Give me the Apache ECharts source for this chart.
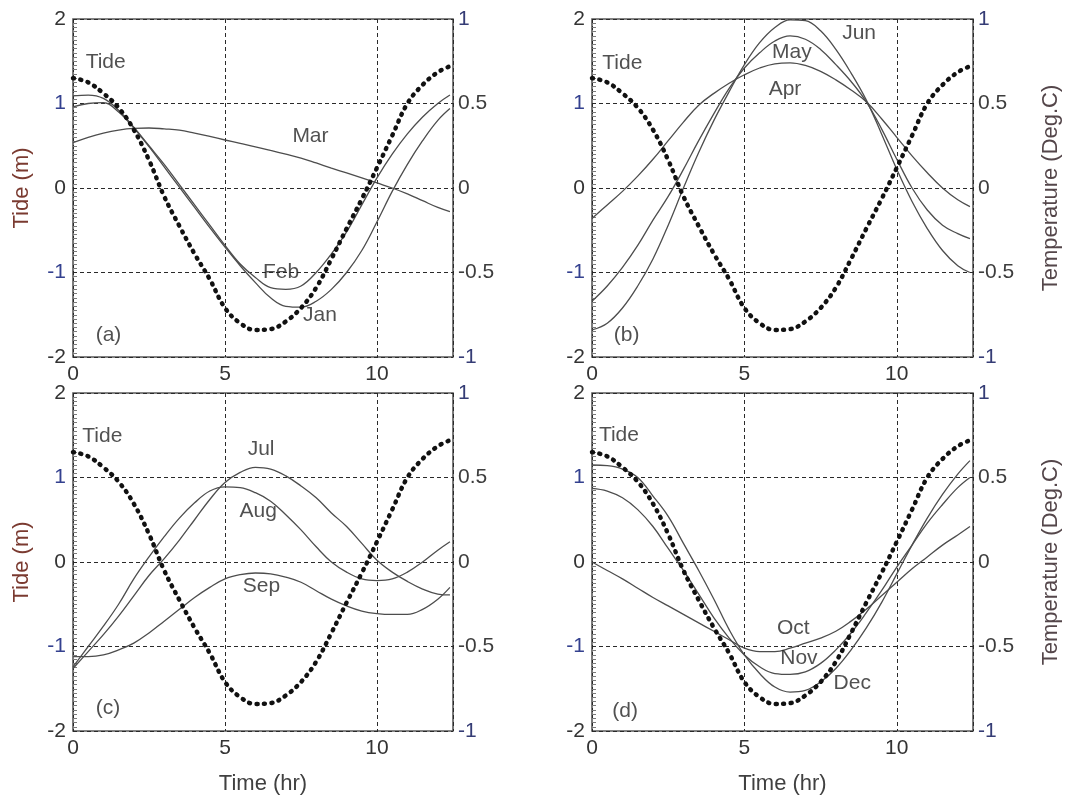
<!DOCTYPE html>
<html>
<head>
<meta charset="utf-8">
<script src="https://cdn.jsdelivr.net/npm/echarts@6/dist/echarts.min.js"></script>
<style>
html,body{margin:0;padding:0;background:#ffffff;}
#chart{width:1070px;height:797px;}
</style>
</head>
<body>
<div id="chart"></div>
<script>
// ---------------- DATA ----------------
const hours = [0,0.5,1,1.5,2,2.5,3,3.5,4,4.5,5,5.5,6,6.5,7,7.5,8,8.5,9,9.5,10,10.5,11,11.5,12,12.4];

// Tide (m), same in all four panels (left axis)
const tide = [1.30,1.25,1.12,0.95,0.69,0.33,-0.10,-0.45,-0.78,-1.08,-1.42,-1.60,-1.68,-1.67,-1.58,-1.42,-1.18,-0.84,-0.48,-0.13,0.24,0.62,1.00,1.22,1.37,1.44];

// Temperature anomalies (Deg.C, right axis)
const jan = [0.48,0.50,0.505,0.45,0.355,0.245,0.125,0.005,-0.115,-0.235,-0.35,-0.46,-0.56,-0.65,-0.70,-0.705,-0.67,-0.60,-0.50,-0.37,-0.20,-0.02,0.14,0.28,0.40,0.47];
const feb = [0.545,0.55,0.53,0.46,0.36,0.25,0.14,0.02,-0.10,-0.22,-0.34,-0.45,-0.53,-0.59,-0.60,-0.58,-0.50,-0.39,-0.26,-0.10,0.06,0.20,0.32,0.42,0.50,0.55];
const mar = [0.268,0.30,0.325,0.343,0.353,0.355,0.35,0.343,0.325,0.305,0.284,0.264,0.244,0.222,0.20,0.177,0.148,0.118,0.089,0.06,0.03,0.0,-0.035,-0.075,-0.115,-0.14];
const apr = [-0.18,-0.10,-0.02,0.07,0.17,0.28,0.39,0.49,0.56,0.62,0.67,0.71,0.735,0.74,0.725,0.69,0.64,0.58,0.51,0.41,0.30,0.19,0.09,0.0,-0.07,-0.11];
const may = [-0.67,-0.58,-0.47,-0.34,-0.19,-0.05,0.11,0.28,0.44,0.59,0.71,0.80,0.87,0.90,0.88,0.82,0.73,0.63,0.51,0.35,0.17,0.0,-0.13,-0.22,-0.27,-0.30];
const jun = [-0.84,-0.80,-0.71,-0.58,-0.42,-0.22,0.0,0.21,0.40,0.57,0.73,0.86,0.95,0.995,0.99,0.93,0.82,0.68,0.52,0.32,0.11,-0.08,-0.24,-0.37,-0.46,-0.50];
const jul = [-0.63,-0.53,-0.43,-0.32,-0.20,-0.08,0.02,0.13,0.25,0.37,0.47,0.53,0.56,0.55,0.51,0.45,0.38,0.29,0.21,0.11,0.01,-0.06,-0.115,-0.16,-0.19,-0.195];
const aug = [-0.62,-0.50,-0.38,-0.25,-0.10,0.03,0.15,0.26,0.35,0.42,0.445,0.44,0.41,0.36,0.28,0.19,0.09,0.0,-0.06,-0.10,-0.11,-0.10,-0.06,0.0,0.07,0.12];
const sep = [-0.56,-0.56,-0.55,-0.52,-0.48,-0.42,-0.35,-0.28,-0.21,-0.15,-0.10,-0.075,-0.065,-0.07,-0.09,-0.12,-0.17,-0.22,-0.26,-0.29,-0.305,-0.31,-0.31,-0.28,-0.22,-0.15];
const oct = [0.0,-0.05,-0.10,-0.155,-0.21,-0.26,-0.31,-0.36,-0.41,-0.46,-0.51,-0.53,-0.53,-0.51,-0.48,-0.45,-0.41,-0.35,-0.28,-0.20,-0.12,-0.04,0.03,0.10,0.16,0.21];
const nov = [0.436,0.42,0.38,0.31,0.21,0.08,-0.05,-0.19,-0.33,-0.45,-0.55,-0.62,-0.66,-0.665,-0.65,-0.60,-0.52,-0.42,-0.30,-0.17,-0.03,0.10,0.23,0.34,0.44,0.50];
const dec = [0.574,0.57,0.55,0.50,0.39,0.27,0.11,-0.05,-0.22,-0.40,-0.55,-0.66,-0.74,-0.77,-0.76,-0.71,-0.63,-0.52,-0.39,-0.24,-0.07,0.10,0.26,0.40,0.52,0.60];

const panelSeries = [[jan,feb,mar],[apr,may,jun],[jul,aug,sep],[oct,nov,dec]];

// Text annotations: [text, hour, tide-axis value]
const notesA = [["Tide",0.40,1.49],["Mar",7.2,0.61],["Feb",6.23,-1.0],["Jan",7.55,-1.5],["(a)",0.73,-1.74]];
const notesB = [["Tide",0.32,1.48],["Jun",8.19,1.83],["May",5.89,1.61],["Apr",5.78,1.17],["(b)",0.70,-1.74]];
const notesC = [["Tide",0.29,1.49],["Jul",5.73,1.33],["Aug",5.46,0.60],["Sep",5.57,-0.29],["(c)",0.73,-1.73]];
const notesD = [["Tide",0.21,1.50],["Oct",6.05,-0.78],["Nov",6.16,-1.14],["Dec",7.91,-1.44],["(d)",0.65,-1.76]];
const panelNotes = [notesA,notesB,notesC,notesD];

// ---------------- CHART ----------------
const FONT = "'Liberation Sans', Arial, sans-serif";
const grids = [
  {left:73, top:19, width:380, height:338},
  {left:592, top:19, width:381, height:338},
  {left:73, top:393, width:380, height:338},
  {left:592, top:393, width:381, height:338}
];
const dash = {type:[4,3], color:'#2a2a2a', width:1};

const option = {
  animation:false,
  backgroundColor:'#ffffff',
  grid: grids.map(g => Object.assign({show:true, borderColor:'#5a5a5a', borderWidth:1.6, backgroundColor:'transparent', containLabel:false}, g)),
  xAxis: [], yAxis: [], series: []
};

for (let i = 0; i < 4; i++) {
  option.xAxis.push({
    type:'value', gridIndex:i, min:0, max:12.5, interval:5,
    axisLine:{show:false}, axisTick:{show:false},
    axisLabel:{fontFamily:FONT, fontSize:21, color:'#333333', margin:7, showMaxLabel:false},
    splitLine:{show:true, lineStyle:dash},
    name: i >= 2 ? 'Time (hr)' : '',
    nameLocation:'middle', nameGap:42,
    nameTextStyle:{fontFamily:FONT, fontSize:22, color:'#404040'}
  });
  option.yAxis.push({
    type:'value', gridIndex:i, position:'left', min:-2, max:2, interval:1,
    axisLine:{show:false},
    axisTick:{show:false, inside:true},
    minorTick:{show:true, splitNumber:20, length:4, lineStyle:{color:'#7a7a7a', width:1}},
    axisLabel:{fontFamily:FONT, fontSize:21, margin:7,
      color:function(v){ return Math.abs(Number(v)) === 1 ? '#34418f' : '#333333'; }},
    splitLine:{show:true, lineStyle:dash},
    minorSplitLine:{show:false},
    name: (i % 2 === 0) ? 'Tide (m)' : '',
    nameLocation:'middle', nameGap:40, nameRotate:90,
    nameTextStyle:{fontFamily:FONT, fontSize:22, color:'#7a3a30'}
  });
  option.yAxis.push({
    type:'value', gridIndex:i, position:'right', min:-1, max:1, interval:0.5,
    axisLine:{show:false}, axisTick:{show:false},
    axisLabel:{fontFamily:FONT, fontSize:21, margin:5,
      color:function(v){ return Math.abs(Number(v)) === 1 ? '#353c75' : '#3d3d3d'; }},
    splitLine:{show:false},
    name: (i % 2 === 1) ? 'Temperature (Deg.C)' : '',
    nameLocation:'middle', nameGap:67, nameRotate:90,
    nameTextStyle:{fontFamily:FONT, fontSize:22, color:'#54464a'}
  });

  // Tide dotted curve
  option.series.push({
    type:'line', xAxisIndex:i, yAxisIndex:2*i, smooth:0.4, symbol:'none', silent:true,
    data: hours.map((h,k) => [h, tide[k]]),
    lineStyle:{color:'#111111', width:4.5, type:[1,6.5], cap:'round'},
    z:3
  });
  // Temperature curves
  panelSeries[i].forEach(arr => {
    option.series.push({
      type:'line', xAxisIndex:i, yAxisIndex:2*i+1, smooth:0.4, symbol:'none', silent:true,
      data: hours.map((h,k) => [h, arr[k]]),
      lineStyle:{color:'#4d4d4d', width:1.3},
      z:2
    });
  });
  // Annotations
  option.series.push({
    type:'scatter', xAxisIndex:i, yAxisIndex:2*i, silent:true,
    symbolSize:1, itemStyle:{color:'rgba(0,0,0,0)'},
    data: panelNotes[i].map(n => ({name:n[0], value:[n[1], n[2]]})),
    label:{show:true, position:'right', distance:0, formatter:'{b}',
      fontFamily:FONT, fontSize:21, color:'#262626'},
    labelLayout:{hideOverlap:false},
    z:5
  });
}

const chart = echarts.init(document.getElementById('chart'), null, {renderer:'canvas'});
chart.setOption(option);
</script>
</body>
</html>
